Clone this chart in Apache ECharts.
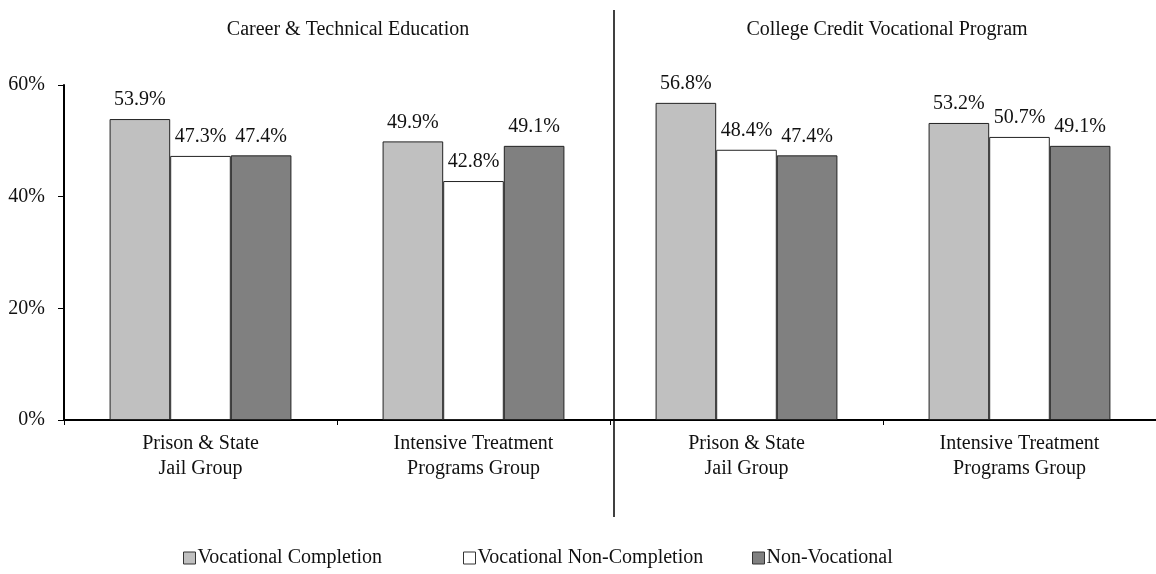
<!DOCTYPE html>
<html>
<head>
<meta charset="utf-8">
<script src="https://cdn.jsdelivr.net/npm/echarts@6/dist/echarts.min.js"></script>
<style>
  html, body { margin: 0; padding: 0; background: #fff; }
  #chart { width: 1156px; height: 574px; }
</style>
</head>
<body>
<div id="chart"></div>
<script>
// 分類與數值
const categories = ['Prison & State\nJail Group', 'Intensive Treatment\nPrograms Group',
  'Prison & State\nJail Group', 'Intensive Treatment\nPrograms Group'];
const sectionTitles = ['Career & Technical Education', 'College Credit Vocational Program'];
const seriesNames = ['Vocational Completion', 'Vocational Non-Completion', 'Non-Vocational'];
const completion = [53.9, 49.9, 56.8, 53.2];
const nonCompletion = [47.3, 42.8, 48.4, 50.7];
const nonVocational = [47.4, 49.1, 47.4, 49.1];
const yTicks = [0, 20, 40, 60];

const font = '"Liberation Serif", "Times New Roman", serif';
const chart = echarts.init(document.getElementById('chart'));

const makeSeries = (name, data, color) => ({
  name,
  type: 'bar',
  data,
  barGap: '0%',
  barCategoryGap: '33.4%',
  itemStyle: { color, borderColor: '#222', borderWidth: 1 },
  label: {
    show: true,
    position: 'top',
    distance: 9,
    formatter: (p) => p.value.toFixed(1) + '%',
    fontFamily: font,
    fontSize: 20,
    color: '#111',
  },
});

// 圖例：Excel 風格，每項各自一欄
const legendLeft = [178, 458, 747];
const legends = seriesNames.map((name, i) => ({
  data: [name],
  bottom: 1,
  left: legendLeft[i],
  icon: 'rect',
  itemWidth: 12,
  itemHeight: 12,
  itemStyle: { borderColor: '#333', borderWidth: 1 },
  textStyle: { fontFamily: font, fontSize: 20, color: '#111', padding: [0, 0, 0, -3] },
}));

const option = {
  animation: false,
  textStyle: { fontFamily: font },
  grid: { left: 64, right: -4, top: 85, bottom: 154 },
  legend: legends,
  xAxis: {
    type: 'category',
    data: categories,
    axisLine: { lineStyle: { color: '#000', width: 2 } },
    axisTick: { show: true, length: 5, lineStyle: { color: '#000' } },
    axisLabel: { fontFamily: font, fontSize: 20, color: '#111', lineHeight: 25, margin: 11 },
  },
  yAxis: {
    type: 'value',
    min: yTicks[0],
    max: yTicks[yTicks.length - 1],
    interval: 20,
    axisLine: { show: true, lineStyle: { color: '#000', width: 2 } },
    axisTick: { show: true, length: 6, lineStyle: { color: '#000' } },
    splitLine: { show: false },
    axisLabel: { fontFamily: font, fontSize: 20, color: '#111', margin: 19, formatter: '{value}%' },
  },
  series: [
    makeSeries(seriesNames[0], completion, '#c0c0c0'),
    makeSeries(seriesNames[1], nonCompletion, '#ffffff'),
    makeSeries(seriesNames[2], nonVocational, '#808080'),
  ],
  graphic: [
    { type: 'line', shape: { x1: 614, y1: 10, x2: 614, y2: 517 }, style: { stroke: '#000', lineWidth: 1.5 } },
    { type: 'text', x: 348, y: 30, style: { text: sectionTitles[0], font: '20px ' + font, fill: '#111', align: 'center', verticalAlign: 'middle' } },
    { type: 'text', x: 887, y: 30, style: { text: sectionTitles[1], font: '20px ' + font, fill: '#111', align: 'center', verticalAlign: 'middle' } },
  ],
};

chart.setOption(option);
</script>
</body>
</html>
